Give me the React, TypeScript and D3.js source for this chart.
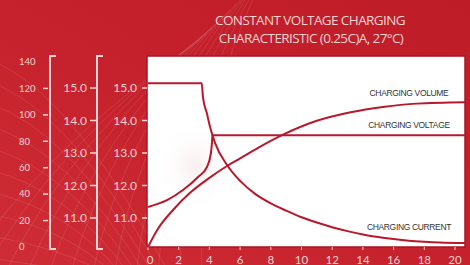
import React, { useEffect } from 'react';
import * as d3 from 'd3';

// charging time (h)
const timeTicks = [0, 2, 4, 6, 8, 10, 12, 14, 16, 18, 20];
const pctTicks = [0, 20, 40, 60, 80, 100, 120, 140];
const voltTicks = [11, 12, 13, 14, 15];

// charging current (scale 0-140)
const currentX = [0, 3.5, 3.58, 3.84, 4.04, 4.36, 5.15, 6, 7, 8, 9, 10, 11, 12, 13, 14, 15, 16, 17, 18, 19, 20.65];
const currentY = [124, 124, 113.5, 101, 91, 79, 62, 50, 40, 33, 27.5, 22.5, 18.5, 15, 12, 9.5, 7.5, 6, 4.8, 4, 3.4, 3];

// charging volume (scale 0-140)
const volumeX = [0, 0.6, 1.63, 2.74, 3.84, 5.15, 6, 7.17, 8.8, 11, 13.2, 15.3, 17.5, 20.65];
const volumeY = [0, 12.9, 28, 41, 51, 61.3, 67, 75, 85, 95.5, 102, 106, 108.5, 109.5];

// charging voltage (V)
const voltageX = [0, 1.24, 2.28, 3.26, 3.84, 4.1, 4.17, 4.2, 20.65];
const voltageY = [11.34, 11.55, 11.86, 12.26, 12.57, 13.0, 13.34, 13.55, 13.55];

const W = 470;
const H = 265;
const plot = { left: 147, right: 465, top: 56, bottom: 247 };

const pale = '#f3d3d3';
const lineRed = '#b8182c';

const App: React.FC = () => {
  useEffect(() => {
    document.body.style.margin = '0';
  }, []);

  const x = d3.scaleLinear().domain([0, 20]).range([148, 455]);
  const yPct = d3.scaleLinear().domain([0, 140]).range([247, 62]);
  const yV = d3.scaleLinear().domain([11, 15]).range([218, 88]);

  const pctLine = d3
    .line<[number, number]>()
    .x((d) => x(d[0]))
    .y((d) => yPct(d[1]))
    .curve(d3.curveMonotoneX);
  const vLine = d3
    .line<[number, number]>()
    .x((d) => x(d[0]))
    .y((d) => yV(d[1]))
    .curve(d3.curveMonotoneX);

  const current = currentX.map((t, i) => [t, currentY[i]] as [number, number]);
  const volume = volumeX.map((t, i) => [t, volumeY[i]] as [number, number]);
  const voltage = voltageX.map((t, i) => [t, voltageY[i]] as [number, number]);

  // background wireframe decoration
  const gridA = d3.range(0, 12).map((i) => `M${-40 + i * 22},${H + 10} Q${40 + i * 14},${150 - i * 4} ${200 + i * 6},${40 - i * 6}`);
  const gridB = d3.range(0, 10).map((i) => `M-10,${60 + i * 22} Q${70},${90 + i * 20} ${170 - i * 8},${H + 10}`);

  const bracket = (bx: number) => `M${bx + 6},${plot.top}H${bx}V${plot.bottom + 2}H${bx + 6}`;

  return (
    <svg width={W} height={H} style={{ display: 'block' }} fontFamily="Lato, 'Noto Sans', sans-serif">
      <defs>
        <linearGradient id="bg" x1="0" y1="1" x2="1" y2="0">
          <stop offset="0%" stopColor="#cf2d35" />
          <stop offset="45%" stopColor="#c6222d" />
          <stop offset="100%" stopColor="#be1c27" />
        </linearGradient>
        <radialGradient id="glow" cx="0.45" cy="0.55" r="0.4">
          <stop offset="0%" stopColor="#f4dede" stopOpacity={0.5} />
          <stop offset="100%" stopColor="#ffffff" stopOpacity={0} />
        </radialGradient>
      </defs>
      <rect width={W} height={H} fill="url(#bg)" />
      <g stroke="#ffffff" strokeOpacity={0.1} fill="none" strokeWidth={1}>
        {gridA.map((d, i) => (
          <path key={'a' + i} d={d} />
        ))}
        {gridB.map((d, i) => (
          <path key={'b' + i} d={d} />
        ))}
      </g>

      <text x={310} y={25} textAnchor="middle" fill={pale} fontSize={13.5} fontWeight={500} fontFamily="'Open Sans', sans-serif" letterSpacing={-0.6}>
        CONSTANT VOLTAGE CHARGING
      </text>
      <text x={311} y={43} textAnchor="middle" fill={pale} fontSize={13.5} fontWeight={500} fontFamily="'Open Sans', sans-serif" letterSpacing={-0.6}>
        CHARACTERISTIC (0.25C)A, 27°C)
      </text>

      {/* plot area */}
      <rect x={plot.left} y={plot.top} width={plot.right - plot.left} height={plot.bottom - plot.top} fill="#ffffff" stroke="#a8141f" strokeWidth={1.5} />
      <rect x={150} y={100} width={100} height={120} fill="url(#glow)" />

      {/* axis 1: 0-140 */}
      <path d={bracket(50)} fill="none" stroke={pale} strokeWidth={2} />
      {pctTicks.map((t) => (
        <g key={'p' + t}>
          {t > 0 && t < 140 && <line x1={43} x2={48} y1={yPct(t)} y2={yPct(t)} stroke={pale} strokeWidth={1.5} />}
          <text x={19} y={yPct(t)} dy="0.35em" fill={pale} fontSize={9.5}>
            {t}
          </text>
        </g>
      ))}

      {/* axis 2: volts */}
      <path d={bracket(97)} fill="none" stroke={pale} strokeWidth={2} />
      {voltTicks.map((t) => (
        <g key={'v' + t}>
          <line x1={90} x2={96} y1={yV(t)} y2={yV(t)} stroke={pale} strokeWidth={1.5} />
          <text x={87} y={yV(t)} dy="0.35em" textAnchor="end" fill={pale} fontSize={12}>
            {t.toFixed(1)}
          </text>
        </g>
      ))}

      {/* axis 3: volts on plot */}
      {voltTicks.map((t) => (
        <g key={'w' + t}>
          <line x1={142} x2={147} y1={yV(t)} y2={yV(t)} stroke={pale} strokeWidth={1.5} />
          <text x={137} y={yV(t)} dy="0.35em" textAnchor="end" fill={pale} fontSize={12}>
            {t.toFixed(1)}
          </text>
        </g>
      ))}

      {/* x axis */}
      {timeTicks.map((t) => (
        <g key={'x' + t}>
          <line x1={x(t)} x2={x(t)} y1={plot.bottom} y2={plot.bottom + 3} stroke={pale} strokeWidth={1} />
          <text x={x(t) + (t === 0 ? 2 : 0)} y={264} textAnchor="middle" fill={pale} fontSize={11.5}>
            {t}
          </text>
        </g>
      ))}

      <g fill="none" stroke={lineRed} strokeWidth={2}>
        <path d={pctLine(current) || ''} />
        <path d={pctLine(volume) || ''} />
        <path d={vLine(voltage) || ''} />
      </g>

      <g fill="#333333" fontSize={8.5} fontFamily="'Liberation Sans', Arial, sans-serif" letterSpacing={-0.35} textAnchor="middle">
        <text x={409} y={96}>CHARGING VOLUME</text>
        <text x={409} y={128}>CHARGING VOLTAGE</text>
        <text x={409} y={230}>CHARGING CURRENT</text>
      </g>
    </svg>
  );
};

export default App;
